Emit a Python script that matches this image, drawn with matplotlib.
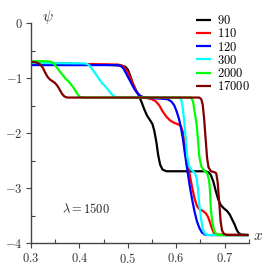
import matplotlib
matplotlib.use("Agg")
import matplotlib.pyplot as plt
from matplotlib.ticker import MultipleLocator, FuncFormatter

plt.rcParams["mathtext.fontset"] = "cm"
plt.rcParams["font.family"] = "serif"
plt.rcParams["font.serif"] = ["DejaVu Serif"]

# curve values (x, psi)
labels = ["90", "110", "120", "300", "2000", "17000"]
colors = ["black", "#ff0000", "#0000ff", "#00ffff", "#00ff00", "#800000"]

x_90 = [0.300, 0.400, 0.470, 0.488, 0.495, 0.500, 0.505, 0.510, 0.516, 0.522,
        0.528, 0.534, 0.540, 0.546, 0.551, 0.555, 0.559, 0.563, 0.567, 0.572,
        0.580, 0.620, 0.660, 0.667, 0.672, 0.677, 0.682, 0.687, 0.692, 0.698,
        0.705, 0.711, 0.716, 0.721, 0.725, 0.729, 0.734, 0.750]
y_90 = [-0.72, -0.74, -0.76, -0.77, -0.79, -0.84, -0.95, -1.08, -1.20, -1.30,
        -1.42, -1.56, -1.68, -1.76, -1.83, -1.96, -2.15, -2.40, -2.57, -2.66,
        -2.69, -2.69, -2.69, -2.71, -2.76, -2.88, -3.05, -3.20, -3.30, -3.36,
        -3.41, -3.48, -3.57, -3.66, -3.75, -3.81, -3.84, -3.85]

x_110 = [0.300, 0.400, 0.480, 0.488, 0.494, 0.500, 0.506, 0.512, 0.518, 0.524,
         0.530, 0.540, 0.550, 0.558, 0.565, 0.572, 0.580, 0.588, 0.596, 0.605,
         0.610, 0.614, 0.618, 0.623, 0.628, 0.633, 0.638, 0.643, 0.648, 0.655,
         0.661, 0.666, 0.670, 0.674, 0.678, 0.684, 0.750]
y_110 = [-0.72, -0.74, -0.75, -0.77, -0.81, -0.89, -1.00, -1.13, -1.24, -1.31,
         -1.34, -1.36, -1.38, -1.42, -1.49, -1.60, -1.70, -1.77, -1.81, -1.84,
         -1.87, -1.98, -2.20, -2.48, -2.75, -2.98, -3.18, -3.32, -3.38, -3.41,
         -3.45, -3.52, -3.62, -3.73, -3.81, -3.84, -3.85]

x_120 = [0.300, 0.480, 0.486, 0.491, 0.496, 0.502, 0.508, 0.514, 0.520, 0.526,
         0.534, 0.545, 0.570, 0.582, 0.590, 0.596, 0.601, 0.606, 0.610, 0.614,
         0.618, 0.623, 0.628, 0.633, 0.638, 0.643, 0.648, 0.653, 0.659, 0.667,
         0.750]
y_120 = [-0.76, -0.76, -0.78, -0.82, -0.90, -1.00, -1.10, -1.20, -1.27, -1.32,
         -1.35, -1.36, -1.37, -1.38, -1.42, -1.49, -1.60, -1.74, -1.90, -2.10,
         -2.36, -2.66, -2.95, -3.20, -3.42, -3.60, -3.72, -3.80, -3.84, -3.85,
         -3.85]

x_300 = [0.300, 0.410, 0.416, 0.421, 0.428, 0.436, 0.442, 0.447, 0.452, 0.457,
         0.462, 0.467, 0.473, 0.482, 0.607, 0.611, 0.614, 0.617, 0.620, 0.623,
         0.627, 0.632, 0.638, 0.642, 0.645, 0.648, 0.652, 0.655, 0.659, 0.665,
         0.750]
y_300 = [-0.72, -0.73, -0.74, -0.77, -0.85, -0.95, -1.03, -1.09, -1.13, -1.18,
         -1.24, -1.29, -1.335, -1.35, -1.35, -1.40, -1.55, -1.81, -2.10, -2.43,
         -2.60, -2.67, -2.71, -2.80, -3.00, -3.30, -3.58, -3.74, -3.82, -3.85,
         -3.85]

x_2000 = [0.300, 0.330, 0.342, 0.349, 0.360, 0.370, 0.380, 0.387, 0.395, 0.401,
          0.410, 0.631, 0.635, 0.638, 0.642, 0.645, 0.648, 0.652, 0.658, 0.664,
          0.668, 0.670, 0.672, 0.675, 0.679, 0.684, 0.690, 0.750]
y_2000 = [-0.69, -0.69, -0.70, -0.75, -0.88, -0.99, -1.08, -1.16, -1.27, -1.34,
          -1.35, -1.35, -1.42, -1.60, -1.81, -2.10, -2.43, -2.60, -2.68, -2.72,
          -2.85, -3.05, -3.40, -3.63, -3.78, -3.84, -3.85, -3.85]

x_17000 = [0.300, 0.310, 0.318, 0.324, 0.329, 0.334, 0.339, 0.344, 0.349, 0.354,
           0.359, 0.364, 0.369, 0.375, 0.385, 0.648, 0.652, 0.655, 0.658, 0.661,
           0.664, 0.667, 0.672, 0.680, 0.683, 0.686, 0.689, 0.692, 0.695, 0.699,
           0.705, 0.750]
y_17000 = [-0.70, -0.71, -0.74, -0.80, -0.89, -0.97, -1.02, -1.05, -1.08, -1.13,
           -1.20, -1.28, -1.33, -1.35, -1.35, -1.35, -1.38, -1.48, -1.75, -2.10,
           -2.45, -2.62, -2.69, -2.71, -2.73, -2.90, -3.25, -3.60, -3.77, -3.83,
           -3.85, -3.85]

xs = [x_90, x_110, x_120, x_300, x_2000, x_17000]
ys = [y_90, y_110, y_120, y_300, y_2000, y_17000]

fig = plt.figure(figsize=(2.69, 2.71), dpi=100)
ax = fig.add_axes([0.1152, 0.1022, 0.8093, 0.8118])

for x, y, c, lab in zip(xs, ys, colors, labels):
    ax.plot(x, y, color=c, lw=1.6, label=lab, solid_capstyle="butt")

ax.set_xlim(0.3, 0.75)
ax.set_ylim(-4, 0)
for s in ["top", "right"]:
    ax.spines[s].set_visible(False)
for s in ["left", "bottom"]:
    ax.spines[s].set_color("#444444")
    ax.spines[s].set_linewidth(1.0)

ax.xaxis.set_major_locator(MultipleLocator(0.1))
ax.xaxis.set_minor_locator(MultipleLocator(0.05))
ax.yaxis.set_major_locator(MultipleLocator(1))
ax.yaxis.set_minor_locator(MultipleLocator(0.5))
ax.xaxis.set_major_formatter(FuncFormatter(lambda v, p: r"$%.1f$" % v))
ax.yaxis.set_major_formatter(FuncFormatter(lambda v, p: r"$%d$" % round(v)))
ax.tick_params(which="major", direction="out", length=3.5, width=0.8,
               color="#444444", labelsize=9, labelcolor="#333333", pad=2.5)
ax.tick_params(which="minor", direction="in", length=3, width=0.8, color="#444444")

ax.text(0.05, 1.03, r"$\psi$", transform=ax.transAxes, fontsize=11,
        ha="left", va="center", color="#333333")
ax.text(1.043, 0.033, r"$x$", transform=ax.transAxes, fontsize=11,
        ha="center", va="center", color="#333333")
ax.text(0.364, -3.38, r"$\lambda = 1500$", fontsize=9, ha="left", va="center",
        color="#222222")

leg = ax.legend(loc="upper left", bbox_to_anchor=(0.758, 1.042), frameon=False,
                fontsize=9, handlelength=1.2, handletextpad=0.5,
                labelspacing=0.02, borderaxespad=0, borderpad=0)
for t in leg.get_texts():
    t.set_text("$%s$" % t.get_text())

fig.savefig("out.png", dpi=100)
